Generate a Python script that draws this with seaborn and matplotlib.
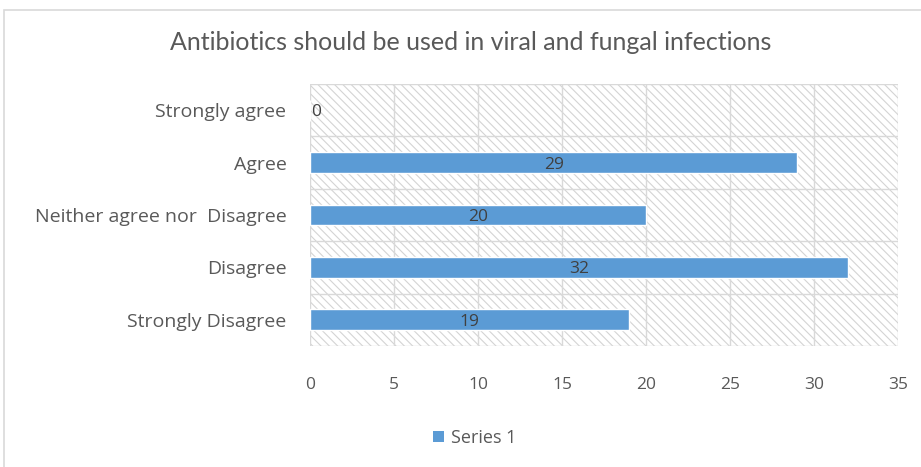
import matplotlib
matplotlib.use("Agg")
import matplotlib.pyplot as plt
from matplotlib.patches import Rectangle, Patch
import seaborn as sns
import pandas as pd

categories = ["Strongly agree", "Agree", "Neither agree nor  Disagree",
              "Disagree", "Strongly Disagree"]
values = [0, 29, 20, 32, 19]
series_name = "Series 1"
x_ticks = [0, 5, 10, 15, 20, 25, 30, 35]
title = "Antibiotics should be used in viral and fungal infections"

sns.set_theme(style="white")
plt.rcParams["font.family"] = ["Open Sans", "DejaVu Sans"]
plt.rcParams["hatch.color"] = "#d4d4d4"
plt.rcParams["hatch.linewidth"] = 0.8

df = pd.DataFrame({"category": categories, "value": values})

fig = plt.figure(figsize=(9.21, 4.67), dpi=100)
fig.patch.set_facecolor("white")
# light chart border
fig.add_artist(Rectangle((4 / 921, -0.01), 1.0, 1 - 10 / 467 + 0.01,
                         transform=fig.transFigure, fill=False,
                         edgecolor="#d9d9d9", linewidth=1.2))

ax = fig.add_axes([310 / 921, 1 - 346 / 467, (898 - 310) / 921, (346 - 84) / 467])

# hatched plot background
ax.add_patch(Rectangle((0, 0), 1, 1, transform=ax.transAxes, facecolor="white",
                       hatch="\\\\\\\\", edgecolor="#d4d4d4", linewidth=0, zorder=0))

sns.barplot(data=df, y="category", x="value", orient="h", color="#5b9bd5",
            width=0.4, saturation=1, ax=ax, zorder=3)

ax.set_xlim(0, 35)
ax.set_xticks(x_ticks)
ax.set_ylim(4.5, -0.5)
ax.set_xlabel("")
ax.set_ylabel("")

# gridlines: vertical at ticks, horizontal between categories
for t in x_ticks:
    ax.axvline(t, color="#d9d9d9", linewidth=1.0, zorder=1)
for b in [-0.5, 0.5, 1.5, 2.5, 3.5, 4.5]:
    ax.axhline(b, color="#d9d9d9", linewidth=1.0, zorder=1)

for s in ax.spines.values():
    s.set_visible(False)

ax.tick_params(axis="both", length=0, colors="#595959")
ax.tick_params(axis="x", pad=22, labelsize=12.5)
ax.tick_params(axis="y", pad=17, labelsize=14)

# value labels centered on each bar
for i, v in enumerate(values):
    ax.text(v / 2 if v > 0 else 0.05, i, f"{v}", ha="center" if v > 0 else "left",
            va="center_baseline", fontsize=12.5, color="#404040", zorder=4)

fig.text(471 / 921, 1 - 43 / 467, title, ha="center", va="center",
         fontsize=18, color="#595959", family=["Lato", "DejaVu Sans"])

handles = [Patch(facecolor="#5b9bd5", edgecolor="none", label=series_name)]
fig.legend(handles=handles, loc="center", bbox_to_anchor=(475 / 921, 1 - 438 / 467),
           frameon=False, fontsize=13, handlelength=0.6, handleheight=0.6,
           handletextpad=0.4, labelcolor="#595959")

fig.savefig("out.png", dpi=100)
